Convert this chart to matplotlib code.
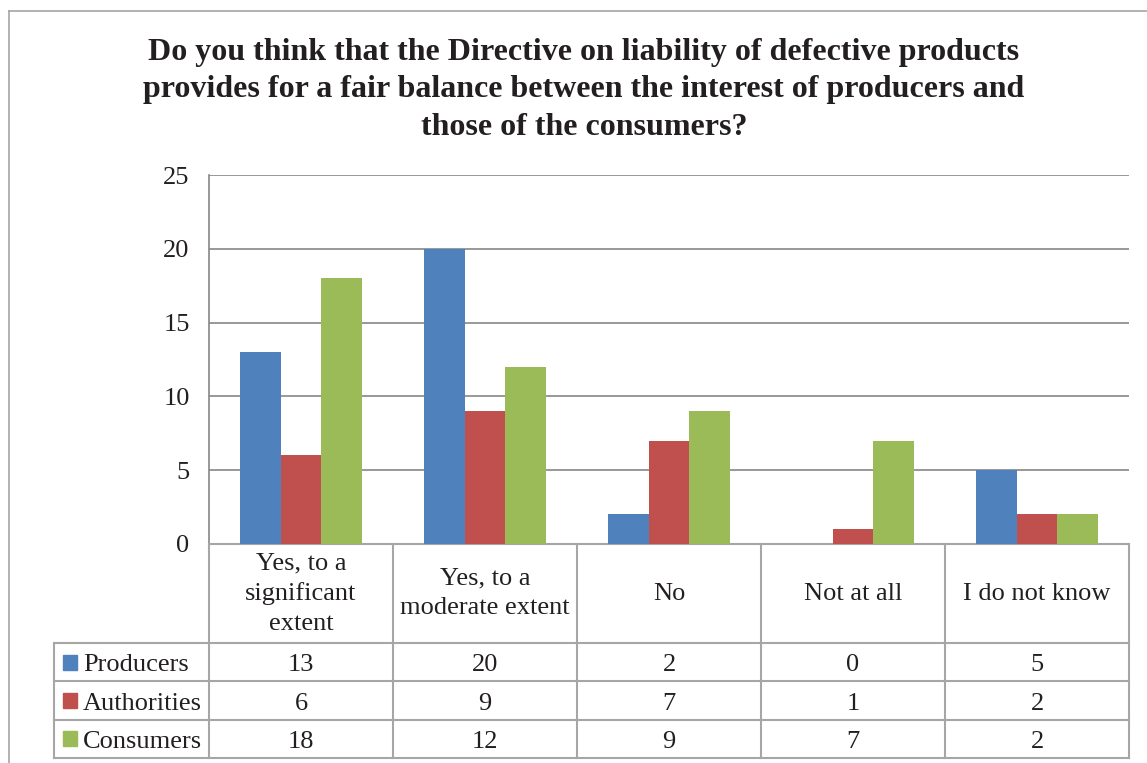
import matplotlib
matplotlib.use("Agg")
import matplotlib.pyplot as plt
from matplotlib.transforms import blended_transform_factory
from matplotlib.patches import Rectangle
from matplotlib.lines import Line2D
import numpy as np

categories = ["Yes, to a\nsignificant\nextent", "Yes, to a\nmoderate extent", "No", "Not at all", "I do not know"]
series_names = ["Producers", "Authorities", "Consumers"]
producers = [13, 20, 2, 0, 5]
authorities = [6, 9, 7, 1, 2]
consumers = [18, 12, 9, 7, 2]
colors = ["#4F81BD", "#C0504D", "#9BBB59"]
title = ("Do you think that the Directive on liability of defective products\n"
         "provides for a fair balance between the interest of producers and\n"
         "those of the consumers?")
yticks = [0, 5, 10, 15, 20, 25]

plt.rcParams['font.family'] = ['Liberation Serif', 'DejaVu Serif']
TXT = "#231F20"
GRID = "#868686"
TLINE = "#A6A6A6"
FS = 19

W, H = 1147, 763
fig = plt.figure(figsize=(W / 100, H / 100), dpi=100)

def fx(px):
    return px / W

def fy(py):
    return 1 - py / H

# outer chart border
fig.add_artist(Line2D([fx(8.5), fx(8.5)], [fy(10.5), -0.1], color=TLINE, lw=1.2, transform=fig.transFigure))
fig.add_artist(Line2D([fx(8.5), 1.1], [fy(10.5), fy(10.5)], color=TLINE, lw=1.2, transform=fig.transFigure))

fig.text(fx(584), fy(90), title, ha="center", va="center", fontsize=23,
         fontweight="bold", color=TXT, linespacing=1.40)

ax_l, ax_r, ax_t, ax_b = 209, 1129, 175, 544
ax = fig.add_axes([fx(ax_l), fy(ax_b), fx(ax_r - ax_l), (ax_b - ax_t) / H])

data = [producers, authorities, consumers]
n = len(data)
x = np.arange(len(categories))
bw = 1 / (n + 1.5)
for i, (vals, c, name) in enumerate(zip(data, colors, series_names)):
    ax.bar(x + (i - (n - 1) / 2) * bw, vals, width=bw, color=c, label=name, zorder=3)

ax.set_xlim(-0.5, len(categories) - 0.5)
ax.set_ylim(0, 25)
ax.set_yticks(yticks)
ax.set_yticklabels([str(v) for v in yticks], fontsize=FS, color=TXT)
ax.tick_params(axis="y", length=0, pad=14)
ax.set_xticks([])
ax.grid(axis="y", color=GRID, lw=1.2, zorder=0)
ax.set_axisbelow(True)
for s in ["top", "right"]:
    ax.spines[s].set_visible(False)
ax.spines["left"].set_color(GRID)
ax.spines["left"].set_linewidth(1.2)
ax.spines["bottom"].set_color(TLINE)
ax.spines["bottom"].set_linewidth(1.5)

# data table below the axis
tb_l, tb_b = 54, 758
tb_h = tb_b - ax_b
tax = fig.add_axes([fx(tb_l), fy(tb_b), fx(ax_r - tb_l), tb_h / H])
tax.set_axis_off()
tax.set_xlim(0, 1)
tax.set_ylim(0, 1)
tr = blended_transform_factory(ax.transData, tax.transAxes)

header_frac = 99 / tb_h
row_h = (1 - header_frac) / n
hdr_bottom = 1 - header_frac

# vertical lines at category boundaries
for k in range(len(categories) + 1):
    tax.add_line(Line2D([k - 0.5, k - 0.5], [0, 1], color=TLINE, lw=1.5, transform=tr, clip_on=False))
# leftmost line of label column
tax.add_line(Line2D([0, 0], [0, hdr_bottom], color=TLINE, lw=1.5, clip_on=False))
# horizontal lines
for r in range(n + 1):
    yv = hdr_bottom - r * row_h
    tax.add_line(Line2D([0, 1], [yv, yv], color=TLINE, lw=1.5, clip_on=False))

# header labels
for k, cat in enumerate(categories):
    tax.text(k, hdr_bottom + header_frac / 2, cat, transform=tr, ha="center", va="center",
             fontsize=FS, color=TXT, linespacing=1.43)

# rows
for r, (vals, c, name) in enumerate(zip(data, colors, series_names)):
    yc = hdr_bottom - (r + 0.5) * row_h
    yb = yc - 9 / tb_h
    sq = 14 / (ax_r - tb_l)
    sqh = 15 / tb_h
    tax.add_patch(Rectangle((9 / (ax_r - tb_l), yc - sqh / 2), sq, sqh, color=c, clip_on=False))
    tax.text(29 / (ax_r - tb_l), yb, name, ha="left", va="baseline", fontsize=FS, color=TXT)
    for k, v in enumerate(vals):
        tax.text(k, yb, str(v), transform=tr, ha="center", va="baseline", fontsize=FS, color=TXT)

fig.savefig("out.png", dpi=100)
